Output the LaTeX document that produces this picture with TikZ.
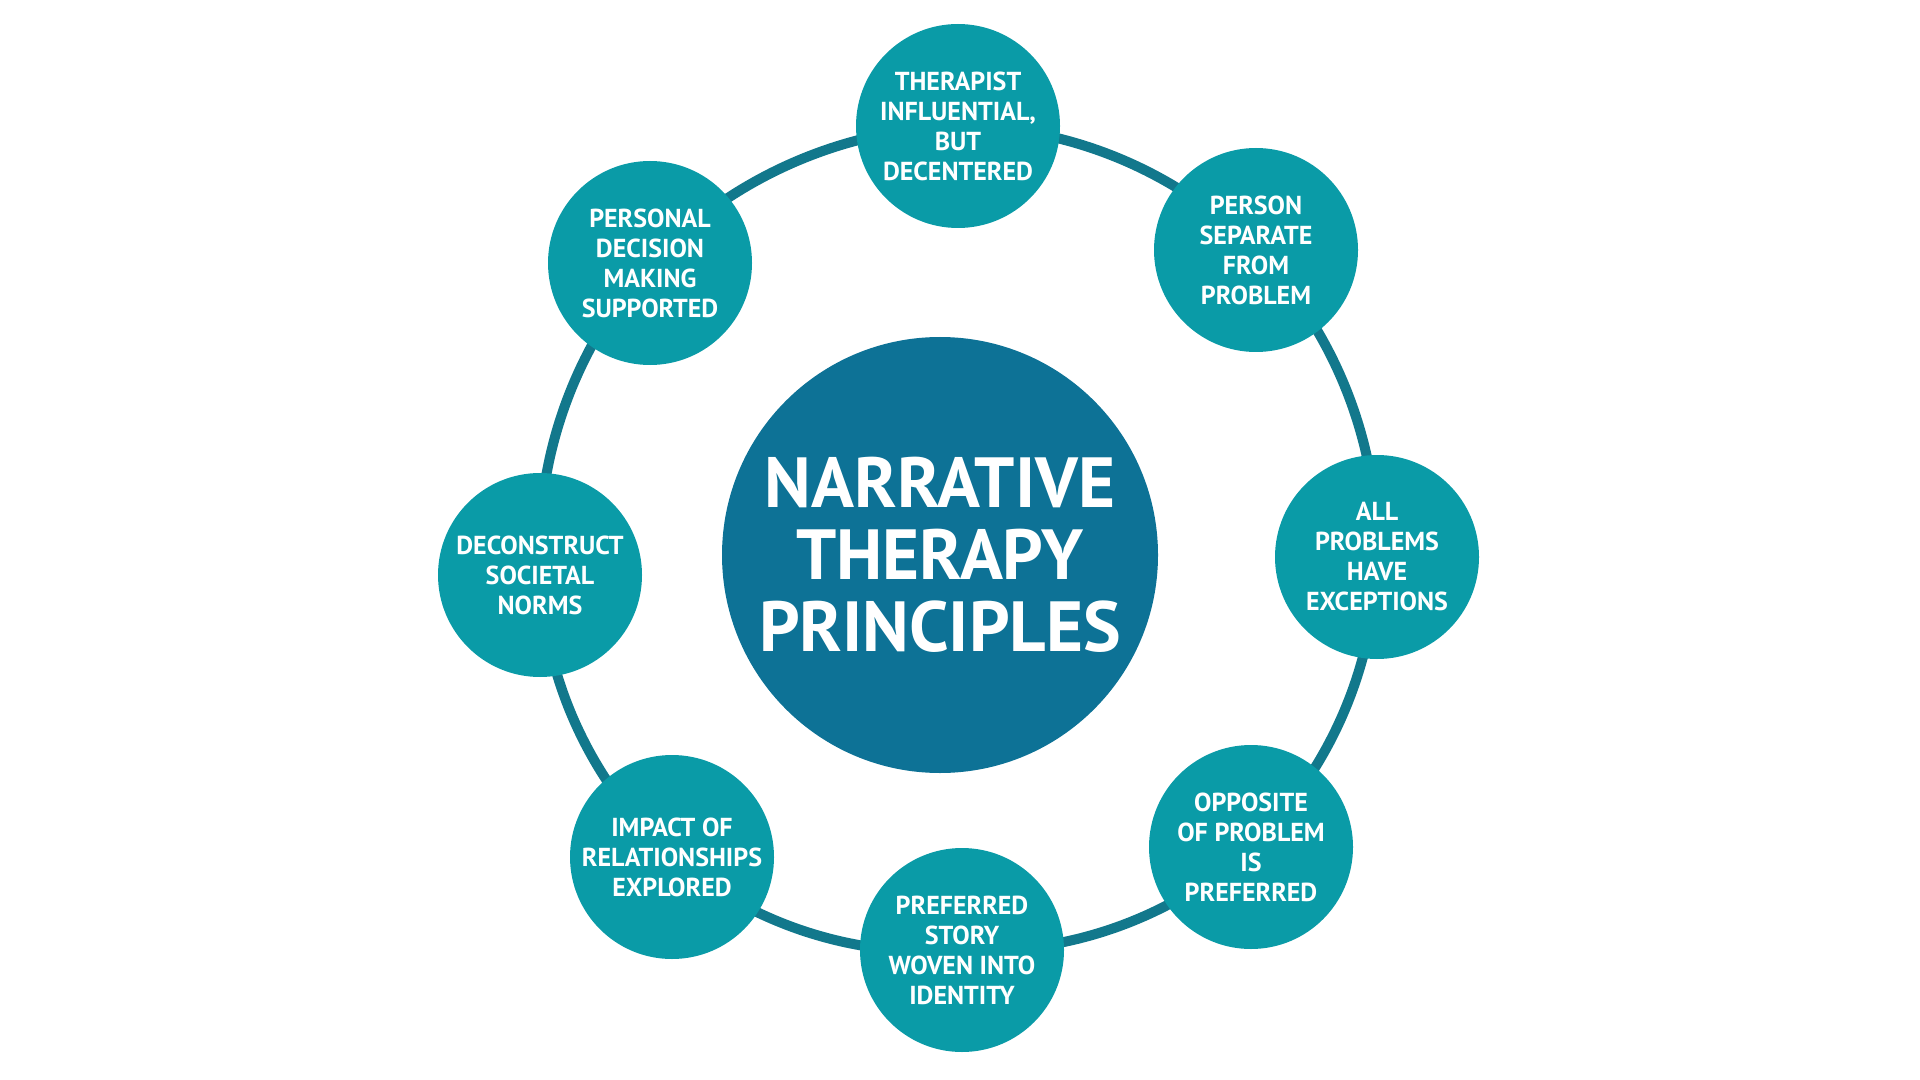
\documentclass[tikz,border=0pt]{standalone}
\usepackage{fontspec}
\setmainfont{PT Sans}
\usetikzlibrary{backgrounds}

\definecolor{hub}{HTML}{0D7296}
\definecolor{petal}{HTML}{0A9BA7}
\definecolor{ring}{HTML}{12788C}

\tikzset{
    principle/.style={circle, fill=petal, text=white, minimum size=102pt,
        inner sep=0pt, align=center, font=\bfseries\fontsize{13}{15}\selectfont},
    link/.style={draw=ring, line width=5pt}
}

\begin{document}
\begin{tikzpicture}[x=0.5pt, y=-0.5pt]

\useasboundingbox (0,0) rectangle (1920,1080);

% ---- Central topic ----
\node[circle, fill=hub, text=white, minimum size=218pt, inner sep=0pt, align=center,
      font=\bfseries\fontsize{35.5}{36}\selectfont] (core) at (940,555)
    {NARRATIVE\\THERAPY\\PRINCIPLES};

% ---- Principles round the ring (clockwise from top) ----
\node[principle] (therapist)  at (958,126)  {THERAPIST\\INFLUENTIAL,\\BUT\\DECENTERED};
\node[principle] (separate)   at (1256,250) {PERSON\\SEPARATE\\FROM\\PROBLEM};
\node[principle] (exceptions) at (1377,557) {ALL\\PROBLEMS\\HAVE\\EXCEPTIONS};
\node[principle] (opposite)   at (1251,847) {OPPOSITE\\OF PROBLEM\\IS\\PREFERRED};
\node[principle] (story)      at (962,950)  {PREFERRED\\STORY\\WOVEN INTO\\IDENTITY};
\node[principle] (impact)     at (672,857)  {IMPACT OF\\RELATIONSHIPS\\EXPLORED};
\node[principle] (norms)      at (540,575)  {DECONSTRUCT\\SOCIETAL\\NORMS};
\node[principle] (decision)   at (650,263)  {PERSONAL\\DECISION\\MAKING\\SUPPORTED};

% ---- Ring arcs between neighbours (centre to centre, hidden under the circles) ----
\begin{scope}[on background layer]
\foreach \a/\b in {therapist/separate, separate/exceptions, exceptions/opposite,
    opposite/story, story/impact, impact/norms, norms/decision, decision/therapist}{
    \draw[link] (\a.center) to[bend left=22.5, looseness=0.885] (\b.center);
}
\end{scope}

\end{tikzpicture}
\end{document}
